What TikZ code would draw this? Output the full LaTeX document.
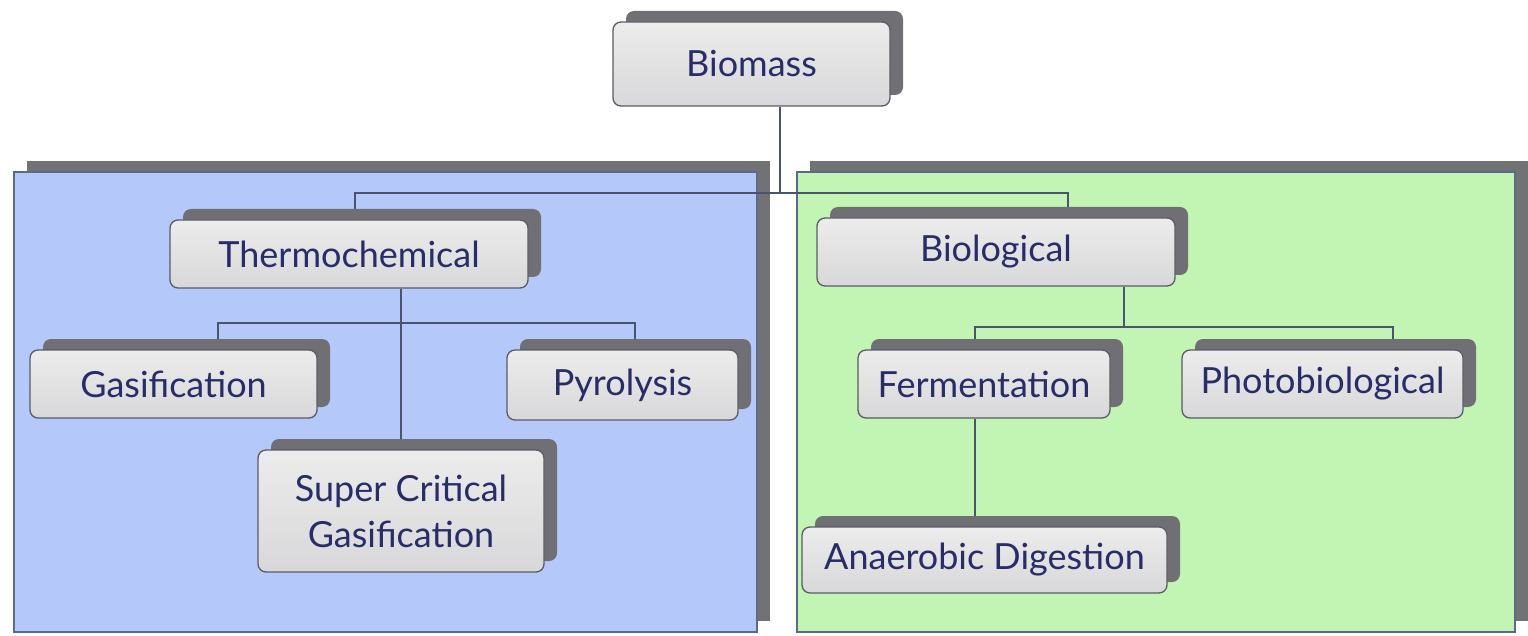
\documentclass[tikz,border=0pt]{standalone}
\usepackage{fontspec}
\setmainfont{Lato}
\usetikzlibrary{shadows}
\pgfdeclarelayer{panels}
\pgfdeclarelayer{links}
\pgfsetlayers{panels,links,main}
\definecolor{panelblue}{RGB}{180,200,249}
\definecolor{panelgreen}{RGB}{194,245,180}
\definecolor{panelshadow}{RGB}{112,114,116}
\definecolor{panelline}{RGB}{92,104,140}
\definecolor{boxshadow}{RGB}{112,112,116}
\definecolor{boxline}{RGB}{88,92,100}
\definecolor{boxtop}{RGB}{236,236,236}
\definecolor{boxbot}{RGB}{216,216,218}
\definecolor{txt}{RGB}{40,44,104}
\definecolor{conn}{RGB}{74,84,110}
\tikzset{
  panel/.style={draw=panelline, line width=1.2pt,
    drop shadow={shadow xshift=13pt, shadow yshift=11pt, fill=panelshadow, opacity=1}},
  box/.style={rectangle, rounded corners=8pt, draw=boxline, line width=1.3pt,
    top color=boxtop, bottom color=boxbot, text=txt, align=center,
    inner sep=0pt, font=\fontsize{36}{44}\selectfont,
    drop shadow={shadow xshift=13pt, shadow yshift=11pt, fill=boxshadow, opacity=1}},
  link/.style={draw=conn, line width=1.5pt}
}
\begin{document}
\begin{tikzpicture}[x=1pt,y=-1pt]
\useasboundingbox (0,0) rectangle (1528,636);
% panels
\begin{pgfonlayer}{panels}
\fill[white] (0,0) rectangle (1528,636);
\path[panel, fill=panelblue] (14,172) rectangle (757,632);
\path[panel, fill=panelgreen] (797,172) rectangle (1515,632);
\end{pgfonlayer}
% boxes
\node[box, minimum width=277pt, minimum height=84pt] (bio) at (751.5,64) {Biomass};
\node[box, minimum width=358pt, minimum height=68pt] (thermo) at (349,254) {Thermochemical};
\node[box, minimum width=358pt, minimum height=68pt] (biol) at (996,252) {Biological};
\node[box, minimum width=287pt, minimum height=68pt] (gas) at (173.5,384) {Gasification};
\node[box, minimum width=231pt, minimum height=70pt] (pyro) at (622.5,385) {Pyrolysis};
\node[box, minimum width=286pt, minimum height=122pt, font=\fontsize{36}{46}\selectfont] (scg) at (401,511) {Super Critical\\Gasification};
\node[box, minimum width=252pt, minimum height=68pt] (ferm) at (984,384) {Fermentation};
\node[box, minimum width=281pt, minimum height=68pt] (photo) at (1322.5,384) {Photobiological};
\node[box, minimum width=365pt, minimum height=66pt] (anae) at (984.5,560) {Anaerobic Digestion};
% junction coordinates
\coordinate (j0) at (780,193);
\coordinate (tL) at (355,193);
\coordinate (tR) at (1068,193);
\coordinate (t1) at (218,323);
\coordinate (t2) at (635,323);
\coordinate (b0) at (1124,327);
\coordinate (b1) at (975,327);
\coordinate (b2) at (1393,327);
% connectors (behind the boxes)
\begin{pgfonlayer}{links}
\draw[link] (bio.south -| j0) -- (j0);
\draw[link] (tL |- thermo.north) -- (tL) -- (tR) -- (tR |- biol.north);
\draw[link] (thermo.south -| scg.north) -- (scg.north);
\draw[link] (t1 |- gas.north) -- (t1) -- (t2) -- (t2 |- pyro.north);
\draw[link] (b0 |- biol.south) -- (b0);
\draw[link] (b1 |- ferm.north) -- (b1) -- (b2) -- (b2 |- photo.north);
\draw[link] (b1 |- ferm.south) -- (b1 |- anae.north);
\end{pgfonlayer}
\end{tikzpicture}
\end{document}
